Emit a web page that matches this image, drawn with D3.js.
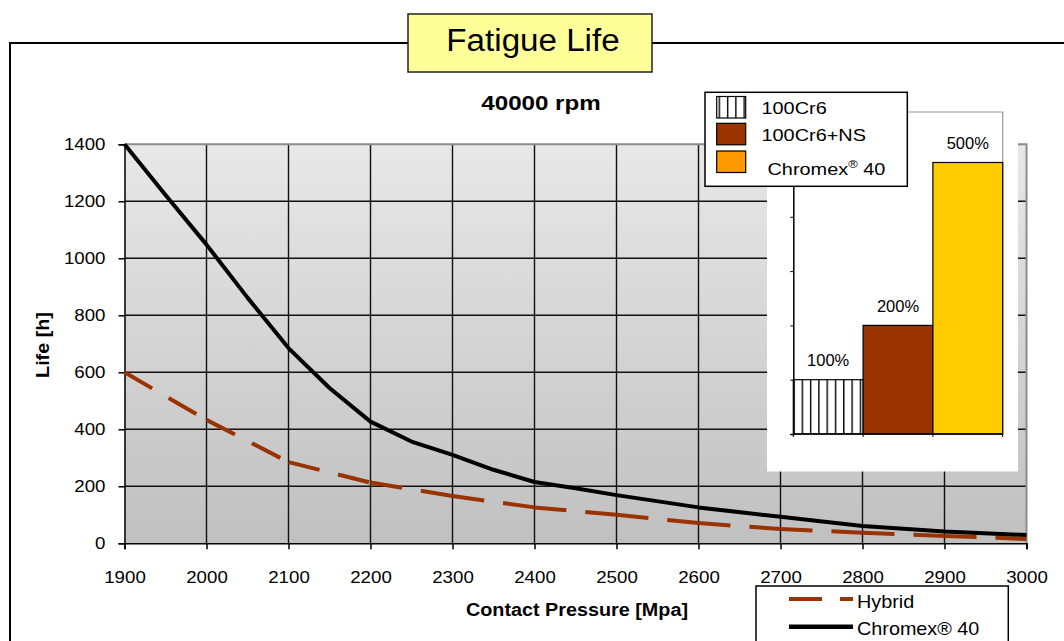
<!DOCTYPE html>
<html>
<head>
<meta charset="utf-8">
<script src="https://cdn.jsdelivr.net/npm/d3@7"></script>
<style>
  html, body { margin: 0; padding: 0; background: #fff; }
  svg { display: block; font-family: "Liberation Sans", Arial, sans-serif; }
</style>
</head>
<body>
<svg id="chart" width="1064" height="641"></svg>
<script>
// ---------------- data ----------------
const titleText = "Fatigue Life";
const subtitleText = "40000 rpm";
const xTitle = "Contact Pressure [Mpa]";
const yTitle = "Life [h]";

const xTicks = [1900, 2000, 2100, 2200, 2300, 2400, 2500, 2600, 2700, 2800, 2900, 3000];
const yTicks = [0, 200, 400, 600, 800, 1000, 1200, 1400];

const hybridX = [1900, 2000, 2100, 2200, 2300, 2400, 2500, 2600, 2700, 2800, 2900, 3000];
const hybridY = [600, 433, 285, 213, 166, 126, 100, 71, 50, 37, 26, 15];

const chromexX = [1900, 1950, 2000, 2050, 2100, 2150, 2200, 2250, 2300, 2350, 2400, 2450, 2500, 2600, 2700, 2800, 2900, 3000];
const chromexY = [1400, 1222, 1048, 862, 685, 545, 427, 357, 310, 258, 215, 193, 169, 126, 93, 61, 41, 29];

const seriesNames = ["Hybrid", "Chromex® 40"];

// inset bar chart
const insetCats = ["100Cr6", "100Cr6+NS", "Chromex 40"];
const insetVals = [1, 2, 5];
const insetLabels = ["100%", "200%", "500%"];
const insetTicks = [0, 1, 2, 3, 4, 5];

// ---------------- setup ----------------
const svg = d3.select("#chart");
const FONT = '"Liberation Sans", Arial, sans-serif';

function stext(g, x, y, str, size, opt = {}) {
  const sx = opt.sx || 1;
  const rot = opt.rotate ? ` rotate(${opt.rotate})` : "";
  return g.append("text")
    .attr("transform", `translate(${x},${y})${rot} scale(${sx},1)`)
    .attr("font-size", size)
    .attr("font-weight", opt.bold ? "bold" : "normal")
    .attr("text-anchor", opt.anchor || "start")
    .attr("fill", "#000")
    .text(str);
}

const defs = svg.append("defs");
const grad = defs.append("linearGradient").attr("id", "bg").attr("x1", 0).attr("y1", 0).attr("x2", 0).attr("y2", 1);
grad.append("stop").attr("offset", "0%").attr("stop-color", "#E8E8E8");
grad.append("stop").attr("offset", "100%").attr("stop-color", "#C0C0C0");

const pat = defs.append("pattern").attr("id", "stripes").attr("patternUnits", "userSpaceOnUse")
  .attr("width", 8.3).attr("height", 10).attr("x", 793.3);
pat.append("rect").attr("width", 8.3).attr("height", 10).attr("fill", "#fff");
pat.append("line").attr("x1", 0.7).attr("x2", 0.7).attr("y1", 0).attr("y2", 10).attr("stroke", "#000").attr("stroke-width", 1.4);

// ---------------- frame + title ----------------
svg.append("path")
  .attr("d", "M10,641 L10,43 L408,43 M652,43 L1064,43")
  .attr("fill", "none").attr("stroke", "#000").attr("stroke-width", 2);

svg.append("rect").attr("x", 408).attr("y", 14).attr("width", 244).attr("height", 58)
  .attr("fill", "#FFFF99").attr("stroke", "#222").attr("stroke-width", 1.5);
stext(svg, 533, 51, titleText, 31, { anchor: "middle", sx: 1.07 });

stext(svg, 541, 110, subtitleText, 21, { anchor: "middle", bold: true, sx: 1.15 });

// ---------------- main plot ----------------
const x = d3.scaleLinear().domain([1900, 3000]).range([124.5, 1026.5]);
const y = d3.scaleLinear().domain([0, 1400]).range([543.3, 144.3]);

const plot = svg.append("g");
plot.append("rect").attr("x", x(1900)).attr("y", y(1400))
  .attr("width", x(3000) - x(1900)).attr("height", y(0) - y(1400))
  .attr("fill", "url(#bg)");

// gridlines
plot.append("g").selectAll("line").data(xTicks.slice(1, -1)).join("line")
  .attr("x1", d => x(d)).attr("x2", d => x(d)).attr("y1", y(0)).attr("y2", y(1400))
  .attr("stroke", "#111").attr("stroke-width", 1.4);
plot.append("g").selectAll("line").data(yTicks.slice(1, -1)).join("line")
  .attr("x1", x(1900)).attr("x2", x(3000)).attr("y1", d => y(d)).attr("y2", d => y(d))
  .attr("stroke", "#111").attr("stroke-width", 1.4);
// top/right border
plot.append("path")
  .attr("d", `M${x(1900)},${y(1400)} L${x(3000)},${y(1400)} L${x(3000)},${y(0)}`)
  .attr("fill", "none").attr("stroke", "#8c8c8c").attr("stroke-width", 2);

// axes
const yAxis = d3.axisLeft(y).tickValues(yTicks).tickSize(6).tickPadding(13).tickFormat(d3.format("d"));
const gy = plot.append("g").attr("transform", `translate(${x(1900)},0)`).call(yAxis);
gy.select(".domain").attr("stroke", "#000").attr("stroke-width", 1.5);
gy.selectAll(".tick line").attr("stroke", "#000").attr("stroke-width", 1.5);
gy.selectAll(".tick text").attr("font-family", FONT).attr("font-size", 17).attr("fill", "#000")
  .attr("x", -19 / 1.1).attr("transform", "scale(1.1,1)");

const xAxis = d3.axisBottom(x).tickValues(xTicks).tickSize(6).tickPadding(8).tickFormat(d3.format("d"));
const gx = plot.append("g").attr("transform", `translate(0,${y(0)})`).call(xAxis);
gx.select(".domain").attr("stroke", "#000").attr("stroke-width", 1.5);
gx.selectAll(".tick line").attr("stroke", "#000").attr("stroke-width", 1.5);
gx.selectAll(".tick text").attr("font-family", FONT).attr("font-size", 17).attr("fill", "#000")
  .attr("dy", "0").attr("y", 40).attr("transform", "scale(1.1,1)");

// axis titles
stext(svg, 577, 616, xTitle, 18.5, { anchor: "middle", bold: true, sx: 1.07 });
stext(svg, 49, 345, yTitle, 18.5, { anchor: "middle", bold: true, rotate: -90, sx: 1.07 });

// series
const hybridPts = hybridX.map((v, i) => [v, hybridY[i]]);
const chromexPts = chromexX.map((v, i) => [v, chromexY[i]]);
const line = d3.line().x(d => x(d[0])).y(d => y(d[1]));

// hybrid: dash pattern restarts at each data point (segment by segment)
const segs = d3.pairs(hybridPts);
plot.append("g").selectAll("path").data(segs).join("path")
  .attr("d", d => line(d))
  .attr("fill", "none").attr("stroke", "#993300").attr("stroke-width", 4)
  .attr("stroke-dasharray", "32,19");

plot.append("path").datum(chromexPts).attr("d", line)
  .attr("fill", "none").attr("stroke", "#000").attr("stroke-width", 4)
  .attr("stroke-linejoin", "round");

// ---------------- inset bar chart ----------------
const inset = svg.append("g");
inset.append("rect").attr("x", 767).attr("y", 100).attr("width", 251).attr("height", 371.5).attr("fill", "#fff");

const xi = d3.scaleBand().domain(insetCats).range([793.3, 1002.7]).padding(0);
const yi = d3.scaleLinear().domain([0, 5.93]).range([434, 112]);

// plot area border (grey)
inset.append("path")
  .attr("d", `M${xi.range()[0]},${yi(5.93)} L${xi.range()[1]},${yi(5.93)} L${xi.range()[1]},${yi(0)}`)
  .attr("fill", "none").attr("stroke", "#999").attr("stroke-width", 1.2);

const fills = ["url(#stripes)", "#993300", "#FFCC00"];
inset.append("g").selectAll("rect").data(insetVals).join("rect")
  .attr("x", (d, i) => xi(insetCats[i])).attr("width", xi.bandwidth())
  .attr("y", d => yi(d)).attr("height", d => yi(0) - yi(d))
  .attr("fill", (d, i) => fills[i]).attr("stroke", "#000").attr("stroke-width", 1.2);

inset.append("g").selectAll("text").data(insetLabels).join("text")
  .attr("x", (d, i) => xi(insetCats[i]) + xi.bandwidth() / 2)
  .attr("y", (d, i) => yi(insetVals[i]) - 13.5)
  .attr("text-anchor", "middle").attr("font-size", 16.5).attr("fill", "#000")
  .text(d => d);

const giy = inset.append("g").attr("transform", `translate(${xi.range()[0]},0)`)
  .call(d3.axisLeft(yi).tickValues(insetTicks).tickSize(3).tickFormat(""));
giy.select(".domain").attr("stroke", "#000").attr("stroke-width", 1.5);
giy.selectAll(".tick line").attr("stroke", "#000").attr("stroke-width", 1);

inset.append("line").attr("x1", xi.range()[0]).attr("x2", xi.range()[1]).attr("y1", yi(0)).attr("y2", yi(0))
  .attr("stroke", "#000").attr("stroke-width", 1.5);
const bounds = insetCats.map(c => xi(c)).concat([xi.range()[1]]);
inset.append("g").selectAll("line").data(bounds).join("line")
  .attr("x1", d => d).attr("x2", d => d).attr("y1", yi(0)).attr("y2", yi(0) + 3)
  .attr("stroke", "#000").attr("stroke-width", 1);

// inset legend
const il = svg.append("g");
il.append("rect").attr("x", 705).attr("y", 92.3).attr("width", 202.3).attr("height", 94)
  .attr("fill", "#fff").attr("stroke", "#000").attr("stroke-width", 1.5);
const swFill = ["url(#stripes)", "#993300", "#FF9900"];
const swY = [96.5, 123.3, 151];
swY.forEach((sy, i) => {
  il.append("rect").attr("x", 716.7).attr("y", sy).attr("width", 29).attr("height", 21.5)
    .attr("fill", swFill[i]).attr("stroke", "#000").attr("stroke-width", 1.2);
});
stext(il, 761.5, 113.5, insetCats[0], 17, { sx: 1.17 });
stext(il, 761.5, 140.5, insetCats[1], 17, { sx: 1.17 });
const t3 = il.append("text").attr("transform", "translate(767.5,174.5) scale(1.17,1)")
  .attr("font-size", 17).attr("fill", "#000");
t3.append("tspan").text("Chromex");
t3.append("tspan").attr("font-size", 11).attr("dy", -7).text("®");
t3.append("tspan").attr("dy", 7).text(" 40");

// ---------------- bottom legend ----------------
const bl = svg.append("g");
bl.append("rect").attr("x", 756).attr("y", 586).attr("width", 252.3).attr("height", 70)
  .attr("fill", "#fff").attr("stroke", "#000").attr("stroke-width", 1.5);
bl.append("line").attr("x1", 789).attr("x2", 853).attr("y1", 599).attr("y2", 599)
  .attr("stroke", "#993300").attr("stroke-width", 4).attr("stroke-dasharray", "33,18");
bl.append("line").attr("x1", 789).attr("x2", 853).attr("y1", 626.7).attr("y2", 626.7)
  .attr("stroke", "#000").attr("stroke-width", 4.5);
stext(bl, 857, 608, seriesNames[0], 18, { sx: 1.1 });
stext(bl, 857, 635, seriesNames[1], 18, { sx: 1.1 });
</script>
</body>
</html>
